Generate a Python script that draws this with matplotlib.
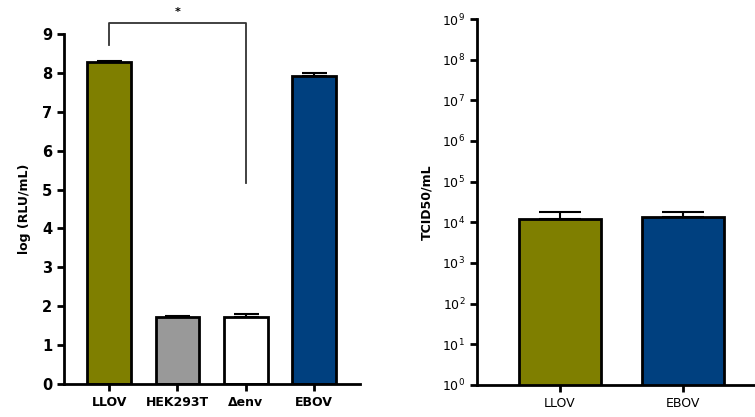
import numpy as np
import matplotlib
matplotlib.use("Agg")
import matplotlib.pyplot as plt

# left panel: luciferase readout
lum_labels = ["LLOV", "HEK293T", "\u0394env", "EBOV"]
lum_values = [8.27, 1.72, 1.72, 7.93]
lum_err = [0.03, 0.03, 0.08, 0.07]
lum_colors = ["#7f7f00", "#999999", "#ffffff", "#00407f"]

# right panel: titres
tcid_labels = ["LLOV", "EBOV"]
tcid_values = [1.2e4, 1.35e4]
tcid_err = [0.6e4, 0.45e4]
tcid_colors = ["#7f7f00", "#00407f"]

plt.rcParams["font.family"] = "DejaVu Sans"

fig = plt.figure(figsize=(7.55, 4.17), dpi=100)
W, H = 755.0, 417.0
ax1 = fig.add_axes([64 / W, 1 - 384 / H, (360 - 64) / W, (384 - 34) / H])
ax2 = fig.add_axes([477 / W, 1 - 385 / H, (755 - 477) / W, (385 - 19) / H])


def style(ax):
    for s in ["top", "right"]:
        ax.spines[s].set_visible(False)
    for s in ["left", "bottom"]:
        ax.spines[s].set_linewidth(2)
    ax.tick_params(width=2, length=5, direction="out")


# LEFT
x = np.arange(len(lum_labels))
ax1.bar(x, lum_values, width=0.64, color=lum_colors, edgecolor="black",
        linewidth=2, zorder=2)
ax1.errorbar(x, lum_values, yerr=[np.zeros(4), lum_err], fmt="none",
             ecolor="black", elinewidth=1.5, capsize=9, capthick=1.5, zorder=1)
ax1.set_xlim(-0.66, 3.67)
ax1.set_ylim(0, 9)
ax1.set_yticks(range(10))
ax1.set_xticks(x)
ax1.set_xticklabels(lum_labels, fontsize=9, fontweight="bold")
for t in ax1.get_yticklabels():
    t.set_fontweight("bold")
    t.set_fontsize(10.5)
ax1.set_ylabel("log (RLU/mL)", fontsize=9, fontweight="bold", labelpad=8)
style(ax1)

# significance bracket
bx = [0, 0, 2, 2]
by = [8.71, 9.28, 9.28, 5.17]
ax1.plot(bx, by, color="#333333", lw=1.3, clip_on=False)
ax1.text(1, 9.45, "*", ha="center", va="bottom", fontsize=8, fontweight="bold")

# RIGHT
x2 = np.arange(len(tcid_labels))
ax2.bar(x2, tcid_values, width=0.67, color=tcid_colors, edgecolor="black",
        linewidth=2, zorder=2)
ax2.errorbar(x2, tcid_values, yerr=[np.zeros(2), tcid_err], fmt="none",
             ecolor="black", elinewidth=1.5, capsize=15, capthick=1.5, zorder=1)
ax2.set_yscale("log")
ax2.set_ylim(1, 1e9)
ax2.set_yticks([10.0 ** k for k in range(10)])
ax2.set_yticklabels([f"$10^{{{k}}}$" for k in range(10)], fontsize=9)
ax2.minorticks_off()
ax2.set_xlim(-0.675, 1.585)
ax2.set_xticks(x2)
ax2.set_xticklabels(tcid_labels, fontsize=9)
ax2.set_ylabel("TCID50/mL", fontsize=9, fontweight="bold", labelpad=6)
style(ax2)

fig.savefig("out.png", dpi=100)
